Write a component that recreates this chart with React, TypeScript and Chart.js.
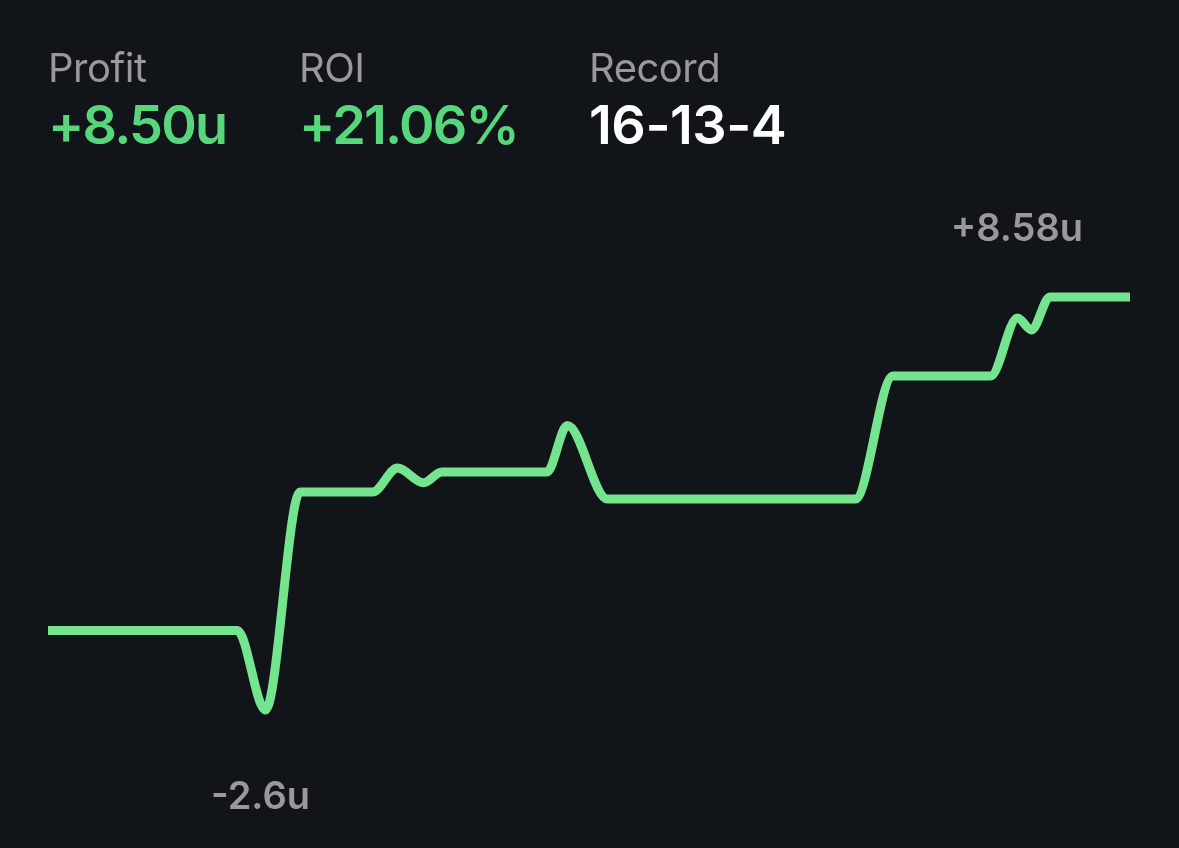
import React, { useEffect, useRef } from "react";
import { Chart, registerables } from "chart.js";

Chart.register(...registerables);

// Bet timeline (day index) and cumulative profit in units
const betDays = [0, 17.5, 20.1, 23.3, 30.0, 32.3, 34.7, 36.4, 46.1, 48.0, 51.7, 74.6, 78.1, 87.1, 89.6, 90.9, 92.6, 100];
const profitUnits = [-0.45, -0.45, -2.6, 3.3, 3.3, 3.95, 3.55, 3.84, 3.84, 5.1, 3.11, 3.11, 6.44, 6.44, 8.01, 7.69, 8.58, 8.58];

const statLabels = ["Profit", "ROI", "Record"];
const statValues = ["+8.50u", "+21.06%", "16-13-4"];
const statPositive = [true, true, false];

const BG = "#111418";
const LINE = "#74E48F";
const GREEN = "#58D67B";
const GRAY = "#98989F";
const FONT = "Inter, 'Open Sans', sans-serif";

const extremaLabels = {
  id: "extremaLabels",
  afterDatasetsDraw(chart: any) {
    const xs = chart.scales.x;
    const ys = chart.scales.y;
    let maxI = 0;
    let minI = 0;
    profitUnits.forEach((v, i) => {
      if (v > profitUnits[maxI]) maxI = i;
      if (v < profitUnits[minI]) minI = i;
    });
    const ctx = chart.ctx;
    ctx.save();
    ctx.fillStyle = GRAY;
    ctx.font = `600 38px ${FONT}`;
    ctx.textAlign = "center";
    ctx.textBaseline = "alphabetic";
    const maxV = profitUnits[maxI];
    const minV = profitUnits[minI];
    ctx.fillText(
      (maxV >= 0 ? "+" : "") + maxV.toFixed(2) + "u",
      xs.getPixelForValue(betDays[maxI]) - 33,
      ys.getPixelForValue(maxV) - 56
    );
    ctx.fillText(
      minV.toFixed(1) + "u",
      xs.getPixelForValue(betDays[minI]) - 5,
      ys.getPixelForValue(minV) + 99
    );
    ctx.restore();
  },
};

export default function App() {
  const canvasRef = useRef<HTMLCanvasElement | null>(null);

  useEffect(() => {
    if (!canvasRef.current) return;
    const chart = new Chart(canvasRef.current, {
      type: "line",
      data: {
        datasets: [
          {
            data: betDays.map((d, i) => ({ x: d, y: profitUnits[i] })),
            borderColor: LINE,
            borderWidth: 9,
            pointRadius: 0,
            pointHoverRadius: 0,
            cubicInterpolationMode: "monotone",
            borderJoinStyle: "round",
            borderCapStyle: "butt",
            fill: false,
            clip: false as any,
          },
        ],
      },
      options: {
        animation: false,
        responsive: false,
        events: [],
        layout: { padding: { left: 48, right: 49, top: 297, bottom: 138 } },
        scales: {
          x: { type: "linear", display: false, min: 0, max: 100 },
          y: { type: "linear", display: false, min: -2.6, max: 8.58 },
        },
        plugins: {
          legend: { display: false },
          tooltip: { enabled: false },
        },
      },
      plugins: [extremaLabels],
    });
    return () => chart.destroy();
  }, []);

  const lefts = [48, 299, 589];

  return (
    <div style={{ position: "fixed", left: 0, top: 0, width: 1179, height: 848, background: BG, overflow: "hidden", fontFamily: FONT }}>
      <canvas ref={canvasRef} width={1179} height={848} style={{ position: "absolute", left: 0, top: 0, width: 1179, height: 848 }} />
      {statLabels.map((lab, i) => (
        <div key={lab} style={{ position: "absolute", left: lefts[i], top: 0 }}>
          <div style={{ position: "absolute", left: 0, top: 48, fontSize: 40, lineHeight: 1, color: GRAY, whiteSpace: "nowrap", fontWeight: 400, letterSpacing: -0.5 }}>{lab}</div>
          <div style={{ position: "absolute", left: 0, top: 98, fontSize: 54, lineHeight: 1, color: statPositive[i] ? GREEN : "#FFFFFF", whiteSpace: "nowrap", fontWeight: 600, letterSpacing: statPositive[i] ? -1.8 : -0.5 }}>{statValues[i]}</div>
        </div>
      ))}
    </div>
  );
}
